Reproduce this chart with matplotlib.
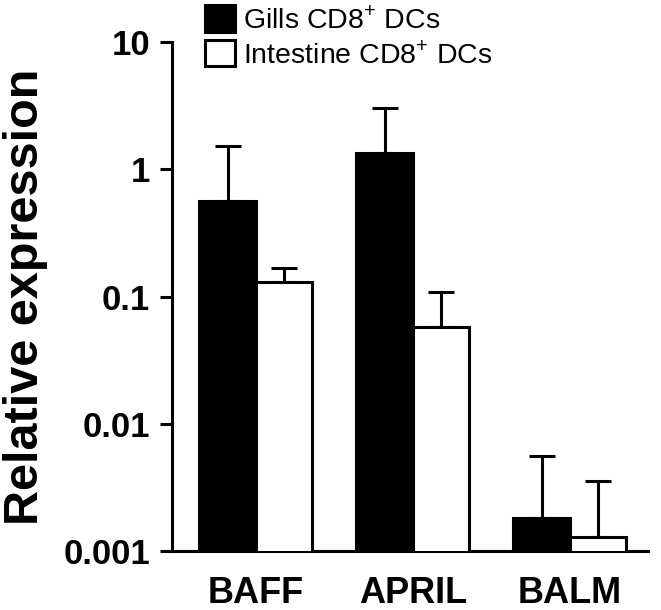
import matplotlib
matplotlib.use('Agg')
import matplotlib.pyplot as plt
import numpy as np
from matplotlib.patches import Patch

plt.rcParams['font.family'] = ['Liberation Sans', 'DejaVu Sans']
plt.rcParams['mathtext.fontset'] = 'custom'
plt.rcParams['mathtext.rm'] = 'Liberation Sans'

# Données
genes = ['BAFF', 'APRIL', 'BALM']
gills = [0.56, 1.34, 0.00182]
gills_top = [1.52, 3.03, 0.00558]
intestine = [0.130, 0.0576, 0.00129]
intestine_top = [0.168, 0.108, 0.00355]
labels = ['Gills CD8$^{+}$ DCs', 'Intestine CD8$^{+}$ DCs']

x = np.arange(len(genes))
w = 0.36
lw = 2.2

fig = plt.figure(figsize=(6.61, 6.10), dpi=100)
ax = fig.add_axes([0.260, 0.0967, 0.72, 0.834])

ax.bar(x - w / 2, gills, w, color='black', edgecolor='black', linewidth=lw, zorder=3)
ax.bar(x + w / 2, intestine, w, color='white', edgecolor='black', linewidth=lw, zorder=3)

err_g = [np.zeros(3), np.array(gills_top) - np.array(gills)]
err_i = [np.zeros(3), np.array(intestine_top) - np.array(intestine)]
ax.errorbar(x - w / 2, gills, yerr=err_g, fmt='none', ecolor='black',
            elinewidth=lw, capsize=9.5, capthick=lw, zorder=2)
ax.errorbar(x + w / 2, intestine, yerr=err_i, fmt='none', ecolor='black',
            elinewidth=lw, capsize=9.5, capthick=lw, zorder=2)

ax.set_yscale('log')
ax.set_ylim(0.001, 10)
ax.set_xlim(-0.535, 2.497)
ax.set_yticks([0.001, 0.01, 0.1, 1, 10])
ax.set_yticklabels(['0.001', '0.01', '0.1', '1', '10'], fontsize=25, fontweight='bold')
ax.minorticks_off()
ax.tick_params(axis='y', length=8.5, width=lw, pad=7)
ax.set_xticks(x)
ax.set_xticklabels(genes, fontsize=26, fontweight='bold')
ax.tick_params(axis='x', length=0, pad=18)

for s in ['top', 'right']:
    ax.spines[s].set_visible(False)
for s in ['left', 'bottom']:
    ax.spines[s].set_linewidth(lw)

ax.set_ylabel('Relative expression', fontsize=35, fontweight='bold', labelpad=11)

handles = [Patch(facecolor='black', edgecolor='black', linewidth=lw),
           Patch(facecolor='white', edgecolor='black', linewidth=lw)]
ax.legend(handles, labels, loc='upper left', bbox_to_anchor=(0.045, 1.095),
          frameon=False, fontsize=20.5, handlelength=1.05, handleheight=1.05,
          handletextpad=0.3, labelspacing=0.2, borderaxespad=0)

fig.savefig('out.png', dpi=100)
